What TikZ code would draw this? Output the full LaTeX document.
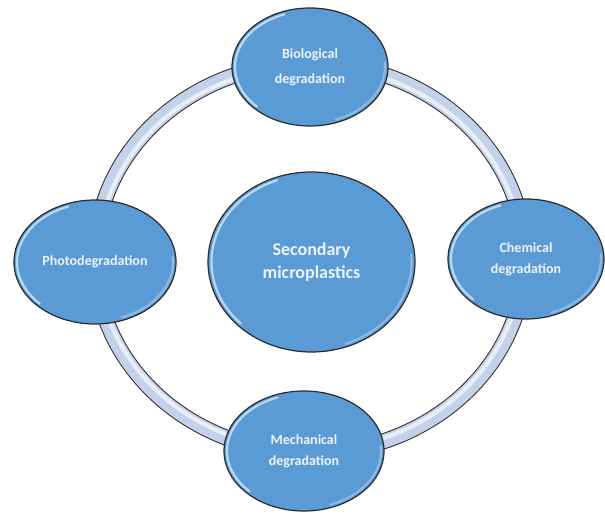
\documentclass[tikz,border=0pt]{standalone}
\usepackage{fontspec}
\setmainfont{Carlito}
\usetikzlibrary{shapes.geometric}
\definecolor{blobfill}{HTML}{5B9BD5}
\definecolor{blobtext}{HTML}{EEF3FA}
\definecolor{ringband}{HTML}{C3D2E9}
\definecolor{ringglow}{HTML}{E9EFF8}
\definecolor{rimline}{HTML}{2A2A2A}
% soft rim highlight inside an ellipse node: #1 node, #2/#3 inset radii
\newcommand\blobglint[3]{%
  \draw[glint,shift={(#1.center)}] (110:#2 and #3)
    arc[start angle=110,end angle=225,x radius=#2,y radius=#3];
  \draw[glint,opacity=0.3,shift={(#1.center)}] (-70:#2 and #3)
    arc[start angle=-70,end angle=5,x radius=#2,y radius=#3];}
\begin{document}
\begin{tikzpicture}[x=1pt,y=1pt,
  blob/.style={ellipse, draw=rimline, line width=1.2pt, fill=blobfill,
    inner sep=0pt, text=blobtext, align=center},
  small/.style={font=\fontsize{14}{21}\selectfont\bfseries},
  big/.style={font=\fontsize{18}{23}\selectfont\bfseries},
  glint/.style={draw=white, opacity=0.6, line width=2.2pt, line cap=round},
  ringedge/.style={draw=rimline, line width=16pt},
  ringbody/.style={draw=ringband, line width=14pt},
  ringshine/.style={draw=ringglow, line width=4pt}]
\useasboundingbox (0,0) rectangle (605,516);
\fill[white] (0,0) rectangle (605,516);

% the ring linking the four degradation routes
\coordinate (hub) at (310,258);
\draw[ringedge] (hub) ellipse[x radius=215, y radius=195];
\draw[ringbody] (hub) ellipse[x radius=215, y radius=195];
\draw[ringshine] (hub) ellipse[x radius=212, y radius=192];

% central outcome
\node[blob, big, minimum width=207pt, minimum height=180pt] (core) at (311.5,254)
  {Secondary\\microplastics};

% degradation pathways
\node[blob, small, minimum width=156pt, minimum height=118pt,
  font=\fontsize{14}{25}\selectfont\bfseries] (bio) at (310,449)
  {Biological\\degradation};
\node[blob, small, minimum width=162pt, minimum height=124pt] (photo) at (95,254)
  {Photodegradation};
\node[blob, small, minimum width=156pt, minimum height=120pt] (chem) at (526,257)
  {Chemical\\degradation};
\node[blob, small, minimum width=160pt, minimum height=120pt] (mech) at (304,65)
  {Mechanical\\degradation};

\blobglint{core}{100}{87}
\blobglint{bio}{75}{56}
\blobglint{photo}{78}{59}
\blobglint{chem}{75}{57}
\blobglint{mech}{77}{57}
\end{tikzpicture}
\end{document}
